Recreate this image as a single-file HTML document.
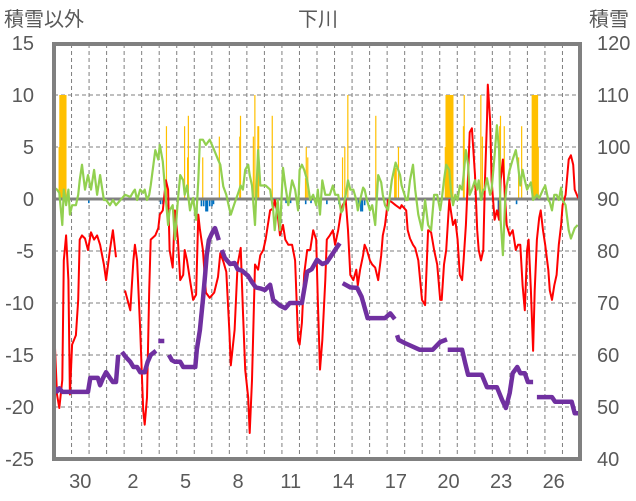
<!DOCTYPE html>
<html><head><meta charset="utf-8"><style>
html,body{margin:0;padding:0;background:#fff;}
svg{display:block;font-family:"Liberation Sans","Noto Sans CJK JP",sans-serif;}
</style></head><body>
<svg id="chart" width="636" height="501" viewBox="0 0 636 501" xmlns="http://www.w3.org/2000/svg">
<text x="4" y="26" font-size="20" fill="#595959">積雪以外</text>
<text x="318" y="26" font-size="20" fill="#595959" text-anchor="middle">下川</text>
<text x="589" y="26" font-size="20" fill="#595959">積雪</text>
<g id="grid"></g>
<g id="bars"></g>
<g id="lines"></g>
<g id="axes"></g>
</svg>
<script>
const dayLabels = ["29","30","31","1","2","3","4","5","6","7","8","9","10","11","12","13","14","15","16","17","18","19","20","21","22","23","24","25","26","27"];
const leftTicks = [15,10,5,0,-5,-10,-15,-20,-25];
const rightTicks = [120,110,100,90,80,70,60,50,40];

const redHours = [0,4,7,11,13,16,19,21,24,29,32,34,37,41,45,49,53,57,61,66,69,74,78,82,88,94,101,105,107,110,114,118,120,123,126,128,134,138,140,144,148,151,153,157,160,164,167,171,173,176,180,184,188,191,193,197,201,206,212,217,220,224,228,232,234,239,243,247,250,253,257,259,262,266,270,273,277,280,286,290,292,296,299,303,306,310,315,319,323,325,328,331,335,339,343,347,349,352,355,359,361,365,369,372,376,380,382,386,389,392,396,400,402,405,409,411,414,418,421,425,429,433,435,438,442,447,452,458,460,466,468,471,475,478,482,487,491,495,499,503,507,511,513,516,519,523,525,528,531,534,537,540,542,545,548,550,553,557,560,562,565,568,570,573,574,577,579,583,586,589,591,594,597,599,603,607,611,614,617,620,623,626,628,631,634,636,639,642,644,647,650,654,656,659,662,665,668,671,673,677,681,684,687,689,693,696];
const redVals = [-12.1,-18.8,-20.1,-17.4,-5.9,-3.5,-7.8,-18.8,-14,-13.1,-9.7,-3.9,-3.5,-3.8,-4.9,-3.2,-3.9,-3.5,-4.4,-6.3,-7.8,-4.9,-3,-5.6,null,-8.8,-10.7,-5.9,-4.4,-5.9,-12.6,-20.3,-21.7,-19.1,-8.8,-3.9,-3.5,-2.8,-1.5,-1.1,1.8,0.9,-4.9,-6.6,-1.1,-3.9,-7.8,-7.3,-4.9,-5.9,-7.8,-9.7,-9.2,-1.5,-2.9,-4.9,-9,-9.5,-9,-7.5,-5.2,-6,-7,-12.6,-16,-12.6,-6.3,-4.7,-10.7,-16.4,-19.1,-22.5,-17.4,-6.3,-6.8,-5.4,-4.9,-3.9,-1.1,-0.9,-0.1,-1.5,-3.5,-2.5,-3.9,-4.4,-4.4,-5.9,-13.6,-14,-11.9,-7.2,-4.9,-4.9,-3,-3.9,-9.7,-16.4,-13.6,-7.8,-3.9,-3.5,-3,-4.4,-3,-1.1,-0.6,-0.1,-3,-7.3,-7.8,-6.8,-8.3,-6.8,-5.4,-4.4,-4.9,-5.9,-6.3,-6.6,-7.8,-5.4,-3.5,-2.5,-0.1,-0.3,-0.6,-0.9,-0.6,-1.1,-3,-3.8,-4.4,-4.7,-5.9,-9.7,-10.2,-3,-3.2,-4.9,-6.3,-9.7,-9.7,-6.3,-4.9,-0.1,-1.1,-2.5,-2,-3.9,-7.3,-7.8,-5.9,-2.5,2.3,6.4,6.8,2.3,-3,-4.9,-5.9,-4.9,1.3,7.6,11,7.6,1.8,-2,-1.1,-2,1.8,3.8,-0.1,-2.5,-3.5,-3,-4.9,-4.4,-4.4,-8.3,-10.7,-4.9,-3.9,-8.8,-14.6,-8.8,-3.9,-1.8,-1.1,-3,-4.4,-6.8,-8.8,-9.7,-8.3,-7.3,-4.4,-2.5,-0.6,0.4,3.8,4.2,3.3,0.9,0.2,-0.1];

const greenHours = [0,4,7,11,13,16,19,21,24,29,32,34,37,41,45,49,53,57,61,66,69,74,78,82,94,101,105,107,110,114,118,120,123,126,128,134,138,140,144,148,151,153,157,160,164,167,171,173,176,180,184,188,191,193,197,201,206,212,217,220,224,228,232,234,239,243,247,250,253,257,259,262,266,270,273,277,280,286,290,292,296,299,303,306,310,315,319,323,325,328,331,335,339,343,347,349,352,355,359,361,365,369,372,376,380,382,386,389,392,396,400,402,405,409,411,414,418,421,425,429,433,435,438,442,447,452,458,460,466,468,471,475,478,482,487,491,495,499,503,507,511,513,516,519,523,525,528,531,534,537,540,542,545,548,550,553,557,560,562,565,568,570,573,577,579,583,586,589,591,594,597,599,603,607,611,614,617,620,623,626,628,631,634,636,639,642,644,647,650,654,656,659,662,665,668,671,673,677,681,684,687,689,693];
const greenVals = [1.1,0.9,0.6,-2.5,0.9,-0.6,0.9,-1.5,-0.6,-0.6,0.4,1.8,3.3,0.9,2.3,0.9,2.8,0.4,2.3,-0.1,-0.1,-0.6,-0.1,-0.6,0.4,0.2,0.7,0.9,-0.1,0.9,0.6,0.9,-0.1,0.4,1.3,4.7,3.8,5.2,3.6,-0.1,-2.5,-1.1,-0.6,-3.9,-0.1,2.3,1.8,0.4,1.3,-1.1,0.1,-2,1.8,5.7,5.7,5.2,5.7,4.7,3.8,3.3,1.2,0.4,-0.9,-1.5,-0.4,0.4,1.3,0.9,2.8,3.3,2.3,1.3,-2.5,4.7,1.3,1.3,1.3,0.9,-1.1,-3,-0.1,-3,3,1.3,-0.6,1.8,0.9,-1.1,2.8,3.3,2.8,1.8,-0.1,0.4,-0.6,0.9,-1.5,1.8,0.4,0.4,0.4,1.3,0.4,0.4,-1.3,-1.1,0.4,1.8,0.9,0.9,-0.1,-1.1,-0.1,1.1,0.9,-0.1,-1.1,-0.6,-2.5,2.3,1.6,0.4,-0.6,-1.1,1.8,3.5,2.3,1.3,-0.1,-0.1,1.8,3.3,0.9,-1.5,-3,-0.1,-2.5,-3,0.4,0.4,-1.1,-0.1,1.8,3.3,2.8,0.9,-0.6,0.4,-0.1,1.3,0.9,2.3,4.7,3.3,0.4,0.9,1.8,0.9,1.8,-0.1,0.9,0.9,2,0.4,0.9,4.2,7.1,4.7,-2,-5.4,-0.1,1.3,2.8,3.8,4.7,3.3,1.3,2.8,1.8,0.9,1.2,1.6,-0.1,0.1,0.4,0.1,0.4,0.9,1.3,-0.1,-0.3,-1.1,0.4,0.4,-0.1,1.1,-0.1,-0.6,-3,-3.8,-3.2,-2.8,-2.5];

const snowHours = [0,4,7,11,45,48,58,61,65,69,74,78,82,85,null,90,95,101,105,110,114,120,124,128,135,null,138,146,null,152,156,160,167,171,187,189,193,197,200,202,205,208,210,213,216,218,null,222,226,233,239,243,249,257,262,267,273,279,286,290,299,306,312,328,335,341,348,355,361,372,378,null,382,392,401,407,415,431,438,445,451,null,454,456,464,484,495,501,511,520,null,521,540,544,548,566,573,586,593,598,603,607,613,617,623,627,634,null,639,659,663,685,689,696];
const snowVals = [53.8,53,53.6,52.9,52.9,55.6,55.6,54.2,55.6,56.7,55.6,54.8,54.8,60,null,60.6,59.6,58.7,57.7,57.7,56.7,56.7,58.7,60,60.8,null,62.7,62.7,null,60,59,58.7,58.7,57.7,57.7,61,64.8,70.6,75.4,79.2,82.1,83.1,83.7,84.4,83.1,82.1,null,80.2,78.7,77.5,77.7,76.5,76.2,75.2,74,73,72.8,72.5,73.5,70.6,69.5,69,70,70,76,76.5,78.3,77.5,77.8,80.2,81.5,null,73.8,73,72.9,71.2,67.1,67.1,67.1,68,66.9,null,63.8,62.9,62.3,61,61,61,62.5,63,null,61,61,58.5,56.2,56.2,53.8,53.8,51.3,49.8,52.7,56.5,57.7,56.5,56.5,54.8,54.8,null,51.9,51.9,51,51,48.8,48.8];

const orangeHours = [6,7,8,9,10,11,12,13,14,15,148,172,176,177,196,218,245,246,263,265,269,270,288,332,333,335,381,384,388,425,450,451,452,455,517,518,519,520,521,522,523,524,525,526,527,541,542,564,566,589,590,595,614,618,632,633,634,635,636,637,638,639,640];
const orangeVals = [5,10,10,10,10,10,10,10,10,10,7,7,4,8,4,6,6,8,6,10,7,7,8,2,5,4,4,5,10,8,3,3,3,5,5,10,10,10,10,10,10,10,10,10,10,7,10,10,6,7,8,7,4,7,10,10,10,10,10,10,10,10,5];

const blueHours = [45,140,143,188,194,197,200,201,202,205,208,210,306,312,323,332,339,360,376,402,405,407,410,587,611];
const blueVals = [-0.4,-0.5,-0.5,-1.5,-0.7,-0.7,-1.2,-1.2,-1.2,-0.7,-0.7,-0.5,-0.4,-0.4,-0.5,-0.5,-0.4,-0.5,-0.5,-0.8,-1.2,-1.2,-0.6,-1.5,-0.5];

const X0=54, X1=580, HPD=23.2, TOTAL_H=dayLabels.length*HPD;
const xH = h => X0 + (h/TOTAL_H)*(X1-X0);
const yL = v => 199 - v*10.4;
const yR = v => 199 - (v-90)*5.2;
const NS="http://www.w3.org/2000/svg";
function mk(tag, parent, attrs){const e=document.createElementNS(NS,tag);for(const k in attrs)e.setAttribute(k,attrs[k]);parent.appendChild(e);return e;}

const grid=document.getElementById('grid');
leftTicks.forEach(v=>{
  if(v===0||v===15||v===-25) return;
  const l=mk('line',grid,{x1:X0,x2:X1,y1:yL(v),y2:yL(v),stroke:'#7f7f7f','stroke-width':1,'stroke-dasharray':'4,3'});
  
  
});
for(let d=1; d<dayLabels.length; d++){
  const x=xH(d*HPD);
  const l=mk('line',grid,{x1:x,x2:x,y1:44,y2:458,stroke:'#7f7f7f','stroke-width':1,'stroke-dasharray':'4,3'});
  
  
}

const bars=document.getElementById('bars');
const bw=(X1-X0)/TOTAL_H;
orangeHours.forEach((h,i)=>{
  const v=orangeVals[i];
  const r=mk('rect',bars,{x:xH(h),y:yL(v),width:Math.max(bw+0.3,1.2),height:yL(0)-yL(v),fill:'#FFC000'});
  
  
});
blueHours.forEach((h,i)=>{
  const v=blueVals[i];
  const r=mk('rect',bars,{x:xH(h),y:yL(0),width:Math.max(bw+0.3,1.6),height:yL(v)-yL(0),fill:'#0070C0'});
  
  
});

const axes=document.getElementById('axes');
const zl=mk('line',document.getElementById('lines'),{x1:X0,x2:X1,y1:yL(0),y2:yL(0),stroke:'#808080','stroke-width':3});



function pathFrom(hs,vs,yf){
  let d='',pen=false;
  for(let i=0;i<hs.length;i++){
    if(vs[i]===null||hs[i]===null){pen=false;continue;}
    d+=(pen?'L':'M')+xH(hs[i]).toFixed(1)+','+yf(vs[i]).toFixed(1);
    pen=true;
  }
  return d;
}
const lines=document.getElementById('lines');
const pr=mk('path',lines,{d:pathFrom(redHours,redVals,yL),fill:'none',stroke:'#FF0000','stroke-width':2,'stroke-linejoin':'round'});


const pg=mk('path',lines,{d:pathFrom(greenHours,greenVals,yL),fill:'none',stroke:'#92D050','stroke-width':2.2,'stroke-linejoin':'round'});


const pp=mk('path',lines,{d:pathFrom(snowHours,snowVals,yR),fill:'none',stroke:'#7030A0','stroke-width':4.5,'stroke-linejoin':'round'});



const frame=mk('rect',axes,{x:54,y:44,width:526,height:415,fill:'none',stroke:'#808080','stroke-width':4});



leftTicks.forEach(v=>{
  const t=mk('text',axes,{x:34,y:yL(v)+7,'font-size':20,fill:'#595959','text-anchor':'end'});
  t.textContent=v;
  
  
});
rightTicks.forEach(v=>{
  const t=mk('text',axes,{x:597,y:yR(v)+7,'font-size':20,fill:'#595959'});
  t.textContent=v;
  
  
});
dayLabels.forEach((lab,i)=>{
  if((i-1)%3!==0) return;
  const t=mk('text',axes,{x:xH(i*HPD+HPD/2),y:488,'font-size':20,fill:'#595959','text-anchor':'middle'});
  t.textContent=lab;
  
  
});
</script>
</body></html>
